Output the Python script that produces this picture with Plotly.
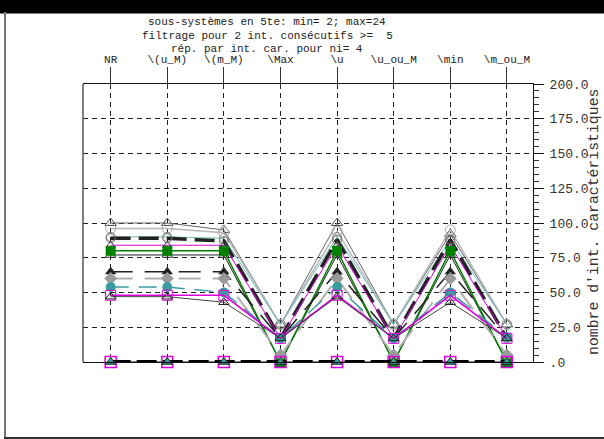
import plotly.graph_objects as go

categories = ["NR", "\\(u_M)", "\\(m_M)", "\\Max", "\\u", "\\u_ou_M", "\\min", "\\m_ou_M"]

title_lines = [
    "sous-systèmes en 5te: min= 2; max=24",
    "filtrage pour 2 int. consécutifs >=  5",
    "rép. par int. car. pour ni= 4",
]
y_title = "nombre d'int. caractéristiques"
y_tickvals = [0, 25, 50, 75, 100, 125, 150, 175, 200]
y_ticktext = [".0", "25.0", "50.0", "75.0", "100.0", "125.0", "150.0", "175.0", "200.0"]

s_tri_gray = [100, 100, 95, 27, 100, 27, 92, 27]
s_circ_light = [96, 96, 93, 27, 94, 27, 95, 27]
s_circ_teal = [90, 90, 89, 27, 90, 27, 88, 27]
s_thick_dash = [89, 89, 87, 17, 88, 17, 88, 17]
s_magenta_hi = [84, 84, 84, 17, 84, 17, 84, 17]
s_green = [80, 80, 80, 0, 80, 0, 80, 0]
s_tri_green = [77, 77, 77, 0, 77, 0, 77, 0]
s_tri_black = [65, 65, 65, 17, 65, 17, 65, 17]
s_diamond = [60, 60, 60, 5, 60, 5, 60, 5]
s_teal_dot = [54, 54, 50, 17, 54, 17, 50, 18]
s_magenta_sq = [48, 48, 48, 17, 48, 17, 48, 17]
s_tri_low = [47, 47, 43, 17, 47, 17, 43, 17]
s_zero = [0, 0, 0, 0, 0, 0, 0, 0]

FONT = "Liberation Mono"
TEAL = "#3a9c9c"
LTEAL = "#6fbcbc"
MAG = "#dd00dd"
GREEN = "#008000"

fig = go.Figure()

def add(vals, color, width, dash, symbol, msize, mcolor, mline="#333", mlw=1):
    fig.add_trace(go.Scatter(
        x=categories, y=vals, mode="lines+markers", cliponaxis=False,
        line=dict(color=color, width=width, dash=dash),
        marker=dict(symbol=symbol, size=msize, color=mcolor,
                    line=dict(color=mline, width=mlw)),
        showlegend=False, hoverinfo="skip"))

add(s_tri_gray, "#666666", 1, "solid", "triangle-up-open", 10, "#555555", "#555555")
add(s_circ_light, "#b8b8b8", 1.5, "solid", "circle-open", 10, "#aaaaaa", "#aaaaaa")
add(s_circ_teal, LTEAL, 1, "solid", "circle-open", 9, "#888888", "#888888")
add(s_thick_dash, "#222222", 3.5, "20px,8px", "circle-open", 9, "#777777", "#777777")
add(s_magenta_hi, MAG, 1, "solid", "triangle-up-open", 8, "#444444", "#444444")
add(s_tri_green, "#222222", 1, "solid", "triangle-up-open", 9, "#333333", "#333333")
add(s_green, GREEN, 1.5, "solid", "square", 10, GREEN, GREEN, 0)
add(s_tri_black, "#222222", 1.5, "22px,12px", "triangle-up", 10, "#222222", "#222222", 0)
add(s_diamond, "#b0b0b0", 2, "22px,12px", "diamond", 10, "#9a9a9a", "#9a9a9a", 0)
add(s_teal_dot, TEAL, 1.5, "18px,10px", "circle", 10, TEAL, TEAL, 0)
add(s_magenta_sq, MAG, 1.5, "solid", "square-open", 10, MAG, MAG)
add(s_tri_low, "#444444", 1, "solid", "triangle-up-open", 9, "#222222", "#222222")
add(s_zero, "#111111", 1, "solid", "square-open", 11, MAG, MAG, 1.5)
add(s_zero, "#000000", 4, "20px,6px", "triangle-up", 9, TEAL, "#222222", 1)

fig.update_xaxes(
    type="category", categoryorder="array", categoryarray=categories,
    range=[-0.489, 7.461], side="top", automargin=False,
    showline=True, linecolor="#111111", linewidth=1, mirror=True,
    ticks="outside", ticklen=16, tickcolor="#333333", tickwidth=1,
    showgrid=True, gridcolor="#222222", gridwidth=1, griddash="5px,4px",
    tickfont=dict(family=FONT, size=11, color="#222222"),
    zeroline=False, fixedrange=True,
)
fig.update_yaxes(
    range=[0, 200], side="right", automargin=False,
    tickvals=y_tickvals, ticktext=y_ticktext,
    showline=True, linecolor="#111111", linewidth=1,
    ticks="outside", ticklen=10, tickcolor="#111111", tickwidth=1,
    minor=dict(dtick=5, ticks="outside", ticklen=5, tickcolor="#333333", showgrid=False),
    showgrid=True, gridcolor="#222222", gridwidth=1, griddash="5px,4px",
    tickfont=dict(family=FONT, size=13, color="#333333"),
    ticklabelstandoff=3,
    zeroline=False, fixedrange=True,
)

W, H = 604, 439
L, R, T, B = 83, 533, 84, 362

def px(x):
    return (x - L) / (R - L)

def py(y):
    return (B - y) / (B - T)

annotations = []
for yy, txt in zip([22, 36, 49], title_lines):
    annotations.append(dict(x=px(267), y=py(yy), xref="paper", yref="paper",
                            text=txt, showarrow=False, xanchor="center", yanchor="middle",
                            font=dict(family=FONT, size=11, color="#222222")))
annotations.append(dict(x=px(594), y=py(222), xref="paper", yref="paper",
                        text=y_title, textangle=-90, showarrow=False,
                        xanchor="center", yanchor="middle",
                        font=dict(family=FONT, size=14.8, color="#333333")))

shapes = [
    dict(type="rect", xref="paper", yref="paper", x0=px(0), x1=px(W), y0=py(13), y1=py(0),
         fillcolor="#000000", line=dict(color="#000000", width=1), layer="above"),
    dict(type="line", xref="paper", yref="paper", x0=px(5), x1=px(5), y0=py(12), y1=py(438),
         line=dict(color="#777777", width=2), layer="above"),
    dict(type="line", xref="paper", yref="paper", x0=px(4), x1=px(W), y0=py(438), y1=py(438),
         line=dict(color="#333333", width=2), layer="above"),
    dict(type="line", xref="paper", yref="paper", x0=0, x1=0, y0=0, y1=1,
         line=dict(color="#555555", width=1.5), layer="above"),
]

fig.update_layout(
    width=W, height=H,
    margin=dict(l=L, r=W - R, t=T, b=H - B, pad=0, autoexpand=False),
    paper_bgcolor="white", plot_bgcolor="white",
    annotations=annotations, shapes=shapes,
    showlegend=False,
)

post = (
    "document.documentElement.style.margin='0';"
    "document.body.style.margin='0';document.body.style.padding='0';"
    "document.body.style.background='linear-gradient(#000 0, #000 12px, #fff 12px)';"
)
fig.write_html("out.html", config={"displayModeBar": False}, post_script=post)
